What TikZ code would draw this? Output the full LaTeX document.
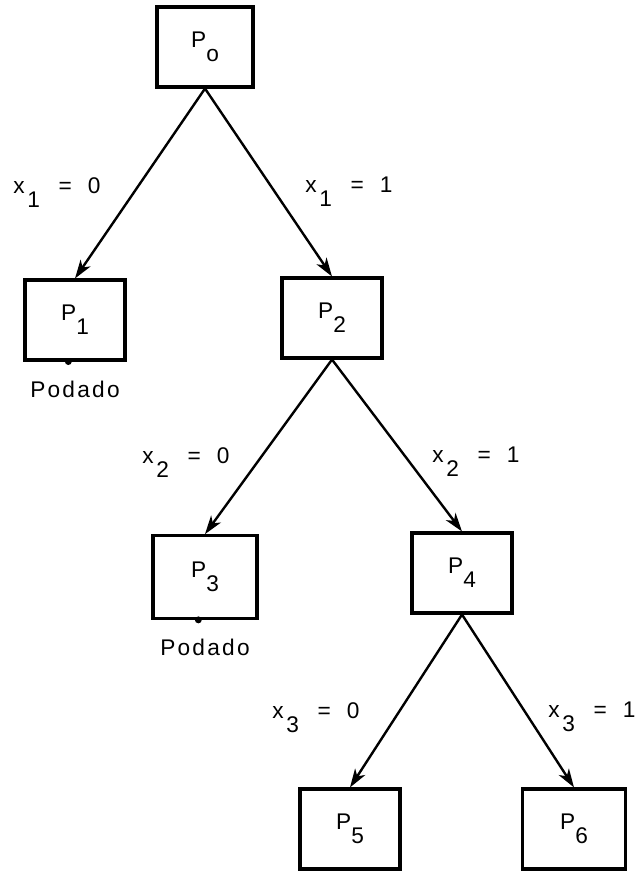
\documentclass[tikz,border=0pt]{standalone}
\usepackage{fontspec}
\setmainfont{Liberation Sans}
\newfontfamily\prunedfont[LetterSpace=10]{Liberation Sans}
\usetikzlibrary{arrows.meta}
% subscripts are typed full size and simply dropped below the line
\newcommand{\lowsub}[1]{\raisebox{-0.62em}{#1}}
\begin{document}
\begin{tikzpicture}[x=0.75pt,y=-0.75pt,
  probbox/.style={draw,line width=2.3pt,rectangle,inner sep=0pt,
    minimum width=75pt,minimum height=60pt,font=\fontsize{17}{20}\selectfont},
  branch/.style={line width=1.8pt,-{Stealth[length=14pt,width=9pt,inset=4pt]}},
  choice/.style={anchor=base west,inner sep=0pt,font=\fontsize{17}{20}\selectfont},
  pruned/.style={inner sep=0pt,font=\fontsize{17}{20}\prunedfont}]
\useasboundingbox (0,0) rectangle (637,872);

% subproblems
\node[probbox,minimum width=72pt] (P0) at (205,47)  {P\lowsub{o}};
\node[probbox] (P1) at (75,320)  {P\lowsub{1}};
\node[probbox] (P2) at (332,318) {P\lowsub{2}};
\node[probbox,minimum width=78pt,minimum height=62pt] (P3) at (205,577) {P\lowsub{3}};
\node[probbox] (P4) at (462,573) {P\lowsub{4}};
\node[probbox] (P5) at (350,829) {P\lowsub{5}};
\node[probbox,minimum width=77pt] (P6) at (574,829) {P\lowsub{6}};

% branching
\draw[branch] (P0.south) -- (P1.north);
\draw[branch] (P0.south) -- (P2.north);
\draw[branch] (P2.south) -- (P3.north);
\draw[branch] (P2.south) -- (P4.north);
\draw[branch] (P4.south) -- (P5.north);
\draw[branch] (P4.south) -- (P6.north);

% branch conditions
\node[choice] (c10) at (13,193)  {x\kern2pt\lowsub{1}\hspace{14pt}=\hspace{12pt}0};
\node[choice] (c11) at (305,192) {x\kern2pt\lowsub{1}\hspace{14pt}=\hspace{12pt}1};
\node[choice] (c20) at (142,463) {x\kern2pt\lowsub{2}\hspace{14pt}=\hspace{12pt}0};
\node[choice] (c21) at (432,462) {x\kern2pt\lowsub{2}\hspace{14pt}=\hspace{12pt}1};
\node[choice] (c30) at (272,718) {x\kern2pt\lowsub{3}\hspace{14pt}=\hspace{12pt}0};
\node[choice] (c31) at (548,717) {x\kern2pt\lowsub{3}\hspace{14pt}=\hspace{12pt}1};

% pruned nodes
\fill ([xshift=-5pt]P1.south) circle[radius=2.6pt];
\fill ([xshift=-5pt]P3.south) circle[radius=2.6pt];
\node[pruned] (podado1) at (75,389)  {Podado};
\node[pruned] (podado3) at (205,647) {Podado};
\end{tikzpicture}
\end{document}
